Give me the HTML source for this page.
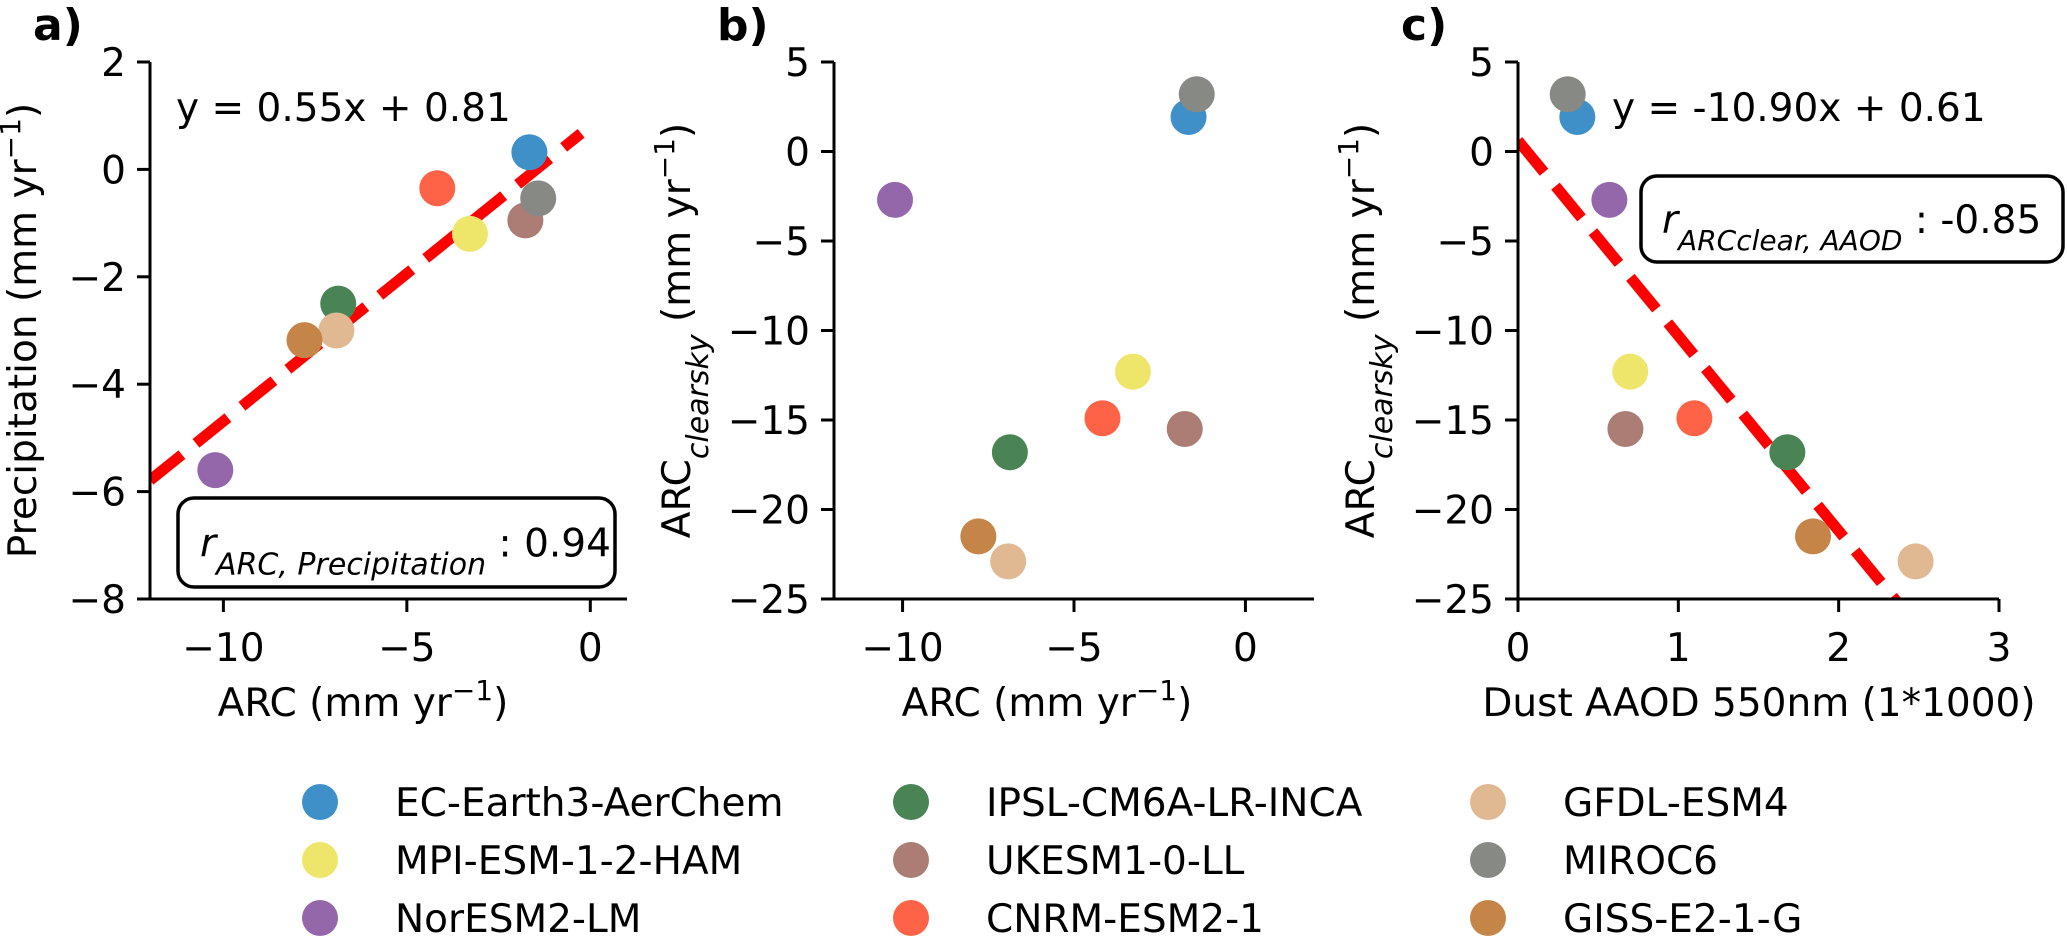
<!DOCTYPE html>
<html><head><meta charset="utf-8"><style>
html,body{margin:0;padding:0;background:#fff}
svg{display:block;font-family:"DejaVu Sans","Liberation Sans",sans-serif}
</style></head><body>
<svg id="fig" width="2067" height="937" viewBox="0 0 2067 937" xmlns="http://www.w3.org/2000/svg"></svg>
<script>
const models = ["EC-Earth3-AerChem","MPI-ESM-1-2-HAM","NorESM2-LM","IPSL-CM6A-LR-INCA","UKESM1-0-LL","CNRM-ESM2-1","GFDL-ESM4","MIROC6","GISS-E2-1-G"];
const colors = ["#3f8fc9","#ede66a","#9467ab","#4a8455","#ab7d74","#ff6347","#e0b892","#878a84","#c68548"];
const arc = [-1.66,-3.28,-10.22,-6.87,-1.77,-4.17,-6.92,-1.42,-7.79];
const precip = [0.32,-1.2,-5.6,-2.5,-0.95,-0.35,-3.0,-0.54,-3.18];
const arcClear = [1.93,-12.3,-2.7,-16.8,-15.5,-14.9,-22.9,3.2,-21.5];
const aaod = [0.37,0.70,0.57,1.68,0.67,1.10,2.48,0.31,1.84];
const ticksA_x = [-10,-5,0];
const ticksA_y = [2,0,-2,-4,-6,-8];
const ticksB_x = [-10,-5,0];
const ticksBC_y = [5,0,-5,-10,-15,-20,-25];
const ticksC_x = [0,1,2,3];
const fitA = {slope:0.55, icept:0.81, x0:-12, x1:-0.25};
const fitC = {slope:-10.90, icept:0.61, x0:0, x1:2.4};

const NS="http://www.w3.org/2000/svg";
const svg=document.getElementById('fig');
function mk(tag,attrs,parent){const e=document.createElementNS(NS,tag);for(const k in attrs)e.setAttribute(k,attrs[k]);(parent||svg).appendChild(e);return e;}
function fmt(v){return v<0?"\u2212"+Math.abs(v):String(v);}

const FS=39;
function panel(id,cfg){
  const g=mk('g',{});
  
  
  const sx=v=>cfg.L+(v-cfg.xmin)/(cfg.xmax-cfg.xmin)*(cfg.R-cfg.L);
  const sy=v=>cfg.B-(v-cfg.ymin)/(cfg.ymax-cfg.ymin)*(cfg.B-cfg.T);
  const clip=mk('clipPath',{id:'clip'+id},g);
  mk('rect',{x:cfg.L,y:cfg.T,width:cfg.R-cfg.L,height:cfg.B-cfg.T},clip);
  if(cfg.fit){
    const f=cfg.fit;
    const ln=mk('line',{x1:sx(f.x0),y1:sy(f.slope*f.x0+f.icept),x2:sx(f.x1),y2:sy(f.slope*f.x1+f.icept),stroke:'#ff0000','stroke-width':11,'stroke-dasharray':'41 18','clip-path':'url(#clip'+id+')'},g);
    
    
  }
  for(let i=0;i<models.length;i++){
    const c=mk('circle',{cx:sx(cfg.xs[i]),cy:sy(cfg.ys[i]),r:18,fill:colors[i]},g);
    
    
  }
  const ax=mk('path',{d:`M${cfg.L},${cfg.T}V${cfg.B}H${cfg.R}`,fill:'none',stroke:'#000','stroke-width':3},g);
  
  
  cfg.xt.forEach(v=>{
    const x=sx(v);
    mk('line',{x1:x,y1:cfg.B,x2:x,y2:cfg.B+13,stroke:'#000','stroke-width':3},g);
    const t=mk('text',{x:x,y:cfg.B+62,'text-anchor':'middle','font-size':FS},g);
    t.textContent=fmt(v);
    
    
  });
  cfg.yt.forEach(v=>{
    const y=sy(v);
    mk('line',{x1:cfg.L-13,y1:y,x2:cfg.L,y2:y,stroke:'#000','stroke-width':3},g);
    const t=mk('text',{x:cfg.L-24,y:y+14,'text-anchor':'end','font-size':FS},g);
    t.textContent=fmt(v);
    
    
  });
  const xl=mk('text',{x:cfg.xlx,y:716,'text-anchor':'middle','font-size':FS},g);
  xl.innerHTML=cfg.xlabel;
  
  
  const yl=mk('text',{x:0,y:0,'text-anchor':'middle','font-size':FS,transform:`translate(${cfg.ylx},${(cfg.T+cfg.B)/2}) rotate(-90)`},g);
  yl.innerHTML=cfg.ylabel;
  
  
  const tt=mk('text',{x:cfg.L-117,y:40,'font-size':44,'font-weight':'bold'},g);
  tt.textContent=id+')';
  
  
  return {g,sx,sy};
}
const sup='<tspan baseline-shift="super" font-size="28">\u22121</tspan>';
const unitLbl='(mm yr'+sup+')';
const clearLbl='ARC<tspan baseline-shift="sub" font-size="30" font-style="italic">clearsky</tspan> '+unitLbl;

const pa=panel('a',{L:150,R:627,T:62,B:599,xmin:-12,xmax:1,ymin:-8,ymax:2,xs:arc,ys:precip,xt:ticksA_x,yt:ticksA_y,fit:fitA,xlabel:'ARC '+unitLbl,xlx:363,ylabel:'Precipitation '+unitLbl,ylx:36});
const pb=panel('b',{L:834,R:1314,T:62,B:599,xmin:-12,xmax:2,ymin:-25,ymax:5,xs:arc,ys:arcClear,xt:ticksB_x,yt:ticksBC_y,fit:null,xlabel:'ARC '+unitLbl,xlx:1047,ylabel:clearLbl,ylx:690});
const pc=panel('c',{L:1518,R:1999,T:62,B:599,xmin:0,xmax:3,ymin:-25,ymax:5,xs:aaod,ys:arcClear,xt:ticksC_x,yt:ticksBC_y,fit:fitC,xlabel:'Dust AAOD 550nm (1*1000)',xlx:1759,ylabel:clearLbl,ylx:1374});

function eqText(x,y,s,name){const t=mk('text',{x:x,y:y,'font-size':FS});t.textContent=s;}
eqText(176,121,'y = 0.55x + 0.81','equation-a');
eqText(1612,121,'y = -10.90x + 0.61','equation-c');

function box(x,y,w,h,html,tx,name){
  const g=mk('g',{});
  
  
  mk('rect',{x:x,y:y,width:w,height:h,rx:16,fill:'#fff',stroke:'#000','stroke-width':3.5},g);
  const t=mk('text',{x:tx,y:y+h/2+14,'font-size':FS},g);
  t.innerHTML=html;
}
box(178,498,437,89,'<tspan font-style="italic">r</tspan><tspan baseline-shift="sub" font-size="30" font-style="italic">ARC, Precipitation</tspan> : 0.94',200,'correlation-box-a');
box(1641,176,422,86,'<tspan font-style="italic">r</tspan><tspan baseline-shift="sub" font-size="28" font-style="italic">ARCclear, AAOD</tspan> : -0.85',1662,'correlation-box-c');

const legX=[320,911,1488], legY=[802,860,918];
const lg=mk('g',{});


for(let i=0;i<models.length;i++){
  const col=Math.floor(i/3), row=i%3;
  const e=mk('g',{},lg);
  
  
  mk('circle',{cx:legX[col],cy:legY[row],r:18,fill:colors[i]},e);
  const t=mk('text',{x:legX[col]+75,y:legY[row]+14,'font-size':FS},e);
  t.textContent=models[i];
}
</script>
</body></html>
